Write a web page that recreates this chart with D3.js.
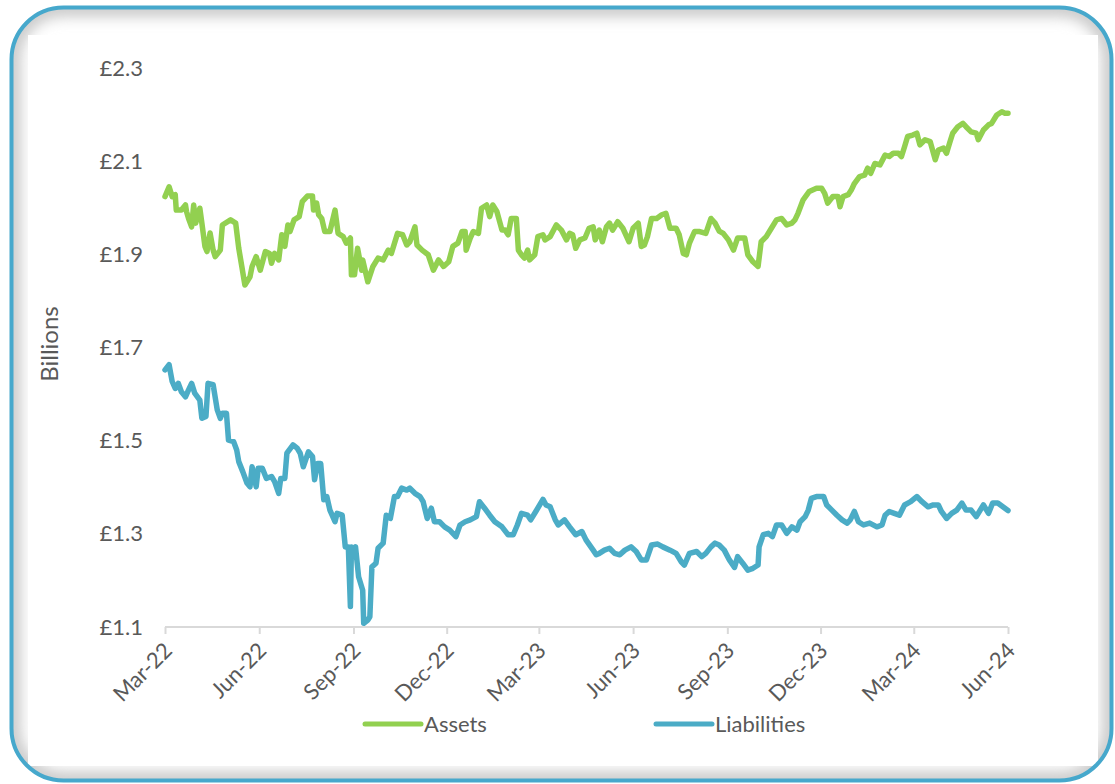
<!DOCTYPE html>
<html>
<head>
<meta charset="utf-8">
<script src="https://cdn.jsdelivr.net/npm/d3@7"></script>
<style>
  html, body { margin: 0; padding: 0; background: #ffffff; }
  svg { display: block; }
  text { font-family: Lato, "Open Sans", sans-serif; fill: #595959; }
</style>
</head>
<body>
<svg id="chart" width="1115" height="784"></svg>
<script>
// Fund assets and liabilities, £ billions
const assetDates = [
  "2022-03-01","2022-03-05","2022-03-08","2022-03-11","2022-03-12","2022-03-17","2022-03-21","2022-03-22","2022-03-24","2022-03-27",
  "2022-03-29","2022-03-31","2022-04-04","2022-04-06","2022-04-09","2022-04-11","2022-04-14","2022-04-17","2022-04-19","2022-04-24",
  "2022-04-26","2022-05-04","2022-05-09","2022-05-12","2022-05-15","2022-05-18","2022-05-23","2022-05-25","2022-05-29","2022-06-02",
  "2022-06-07","2022-06-11","2022-06-13","2022-06-16","2022-06-20","2022-06-23","2022-06-26","2022-06-29","2022-07-01","2022-07-05",
  "2022-07-10","2022-07-13","2022-07-18","2022-07-23","2022-07-24","2022-07-27","2022-07-29","2022-08-01","2022-08-04","2022-08-09",
  "2022-08-14","2022-08-17","2022-08-22","2022-08-25","2022-08-29","2022-08-30","2022-09-02","2022-09-05","2022-09-09","2022-09-10",
  "2022-09-15","2022-09-20","2022-09-25","2022-09-30","2022-10-05","2022-10-08","2022-10-14","2022-10-19","2022-10-23","2022-10-26",
  "2022-10-31","2022-11-02","2022-11-07","2022-11-13","2022-11-18","2022-11-23","2022-11-28","2022-12-03","2022-12-07","2022-12-12",
  "2022-12-16","2022-12-19","2022-12-20","2022-12-24","2022-12-27","2023-01-01","2023-01-04","2023-01-09","2023-01-12","2023-01-15",
  "2023-01-19","2023-01-24","2023-01-27","2023-01-30","2023-02-02","2023-02-07","2023-02-09","2023-02-12","2023-02-15","2023-02-18",
  "2023-02-20","2023-02-25","2023-02-28","2023-03-05","2023-03-07","2023-03-12","2023-03-18","2023-03-23","2023-03-28","2023-03-31",
  "2023-04-03","2023-04-06","2023-04-10","2023-04-15","2023-04-19","2023-04-23","2023-04-25","2023-04-29","2023-05-02","2023-05-06",
  "2023-05-09","2023-05-12","2023-05-17","2023-05-22","2023-05-28","2023-06-01","2023-06-06","2023-06-09","2023-06-12","2023-06-15",
  "2023-06-19","2023-06-24","2023-06-29","2023-07-03","2023-07-07","2023-07-13","2023-07-16","2023-07-20","2023-07-23","2023-07-26",
  "2023-07-31","2023-08-05","2023-08-11","2023-08-16","2023-08-20","2023-08-24","2023-08-28","2023-09-02","2023-09-07","2023-09-11",
  "2023-09-18","2023-09-21","2023-09-26","2023-10-01","2023-10-04","2023-10-09","2023-10-14","2023-10-19","2023-10-24","2023-10-29",
  "2023-11-03","2023-11-06","2023-11-09","2023-11-14","2023-11-20","2023-11-27","2023-12-02","2023-12-05","2023-12-08","2023-12-13",
  "2023-12-18","2023-12-20","2023-12-23","2023-12-28","2023-12-31","2024-01-03","2024-01-08","2024-01-13","2024-01-16","2024-01-19",
  "2024-01-23","2024-01-28","2024-02-02","2024-02-06","2024-02-10","2024-02-15","2024-02-18","2024-02-21","2024-02-24","2024-02-29",
  "2024-03-04","2024-03-07","2024-03-12","2024-03-17","2024-03-22","2024-03-25","2024-03-30","2024-04-02","2024-04-05","2024-04-08",
  "2024-04-13","2024-04-18","2024-04-21","2024-04-26","2024-05-01","2024-05-03","2024-05-08","2024-05-13","2024-05-16","2024-05-21",
  "2024-05-26","2024-05-29","2024-06-01"
];
const assetValues = [
  2.024,2.045,2.024,2.028,1.995,1.995,2.006,1.992,1.977,1.959,
  2.006,1.967,1.999,1.967,1.917,1.906,1.946,1.909,1.895,1.909,
  1.963,1.974,1.967,1.913,1.874,1.834,1.852,1.874,1.895,1.866,
  1.906,1.902,1.881,1.902,1.888,1.942,1.917,1.963,1.949,1.974,
  1.981,2.013,2.025,2.025,1.995,2.010,1.985,1.977,1.949,1.949,
  1.995,1.945,1.938,1.924,1.935,1.856,1.856,1.913,1.866,1.888,
  1.841,1.874,1.892,1.888,1.909,1.902,1.945,1.942,1.920,1.927,
  1.959,1.920,1.909,1.899,1.866,1.888,1.874,1.884,1.917,1.924,
  1.949,1.949,1.909,1.935,1.949,1.945,1.999,2.006,1.981,2.006,
  1.992,1.952,1.952,1.942,1.977,1.977,1.909,1.899,1.892,1.909,
  1.888,1.899,1.938,1.942,1.931,1.938,1.963,1.952,1.931,1.945,
  1.942,1.913,1.931,1.935,1.956,1.959,1.931,1.952,1.927,1.959,
  1.967,1.952,1.970,1.956,1.927,1.956,1.967,1.917,1.920,1.938,
  1.977,1.977,1.985,1.988,1.956,1.956,1.942,1.902,1.899,1.924,
  1.949,1.949,1.945,1.977,1.967,1.950,1.945,1.931,1.909,1.935,
  1.935,1.899,1.884,1.874,1.927,1.938,1.956,1.974,1.977,1.963,
  1.967,1.974,1.988,2.017,2.035,2.042,2.042,2.031,2.010,2.024,
  2.024,2.002,2.024,2.028,2.038,2.052,2.067,2.070,2.085,2.074,
  2.095,2.092,2.113,2.110,2.117,2.117,2.110,2.131,2.153,2.156,
  2.160,2.135,2.146,2.142,2.103,2.124,2.128,2.117,2.139,2.160,
  2.174,2.181,2.174,2.163,2.160,2.146,2.167,2.178,2.181,2.199,
  2.206,2.203,2.203
];

const liabilityDates = [
  "2022-03-01","2022-03-05","2022-03-08","2022-03-11","2022-03-14","2022-03-17","2022-03-21","2022-03-24","2022-03-27","2022-03-30",
  "2022-04-04","2022-04-06","2022-04-10","2022-04-12","2022-04-17","2022-04-21","2022-04-24","2022-04-26","2022-04-30","2022-05-02",
  "2022-05-07","2022-05-10","2022-05-12","2022-05-16","2022-05-20","2022-05-23","2022-05-25","2022-05-29","2022-05-31","2022-06-04",
  "2022-06-08","2022-06-13","2022-06-16","2022-06-20","2022-06-22","2022-06-26","2022-06-28","2022-07-04","2022-07-08","2022-07-11",
  "2022-07-14","2022-07-19","2022-07-23","2022-07-25","2022-07-28","2022-07-31","2022-08-03","2022-08-06","2022-08-09","2022-08-14",
  "2022-08-16","2022-08-21","2022-08-24","2022-08-27","2022-08-29","2022-08-30","2022-09-02","2022-09-03","2022-09-06","2022-09-10",
  "2022-09-11","2022-09-15","2022-09-17","2022-09-19","2022-09-23","2022-09-25","2022-09-30","2022-10-03","2022-10-07","2022-10-11",
  "2022-10-14","2022-10-18","2022-10-23","2022-10-26","2022-10-31","2022-11-05","2022-11-08","2022-11-12","2022-11-16","2022-11-19",
  "2022-11-24","2022-11-29","2022-12-04","2022-12-10","2022-12-14","2022-12-19","2022-12-24","2022-12-30","2023-01-02","2023-01-07",
  "2023-01-12","2023-01-17","2023-01-24","2023-01-30","2023-02-04","2023-02-08","2023-02-12","2023-02-18","2023-02-21","2023-02-26",
  "2023-03-05","2023-03-08","2023-03-12","2023-03-17","2023-03-20","2023-03-26","2023-03-31","2023-04-06","2023-04-12","2023-04-16",
  "2023-04-23","2023-04-26","2023-04-29","2023-05-04","2023-05-09","2023-05-14","2023-05-19","2023-05-24","2023-05-30","2023-06-04",
  "2023-06-09","2023-06-14","2023-06-19","2023-06-25","2023-06-30","2023-07-07","2023-07-13","2023-07-18","2023-07-21","2023-07-26",
  "2023-08-02","2023-08-07","2023-08-11","2023-08-16","2023-08-20","2023-08-24","2023-08-29","2023-09-03","2023-09-08","2023-09-11",
  "2023-09-16","2023-09-21","2023-09-26","2023-10-01","2023-10-02","2023-10-06","2023-10-11","2023-10-15","2023-10-19","2023-10-24",
  "2023-10-29","2023-11-03","2023-11-08","2023-11-11","2023-11-16","2023-11-19","2023-11-22","2023-11-27","2023-12-04","2023-12-07",
  "2023-12-12","2023-12-17","2023-12-22","2023-12-27","2023-12-30","2024-01-03","2024-01-07","2024-01-12","2024-01-18","2024-01-25",
  "2024-01-30","2024-02-02","2024-02-06","2024-02-11","2024-02-16","2024-02-21","2024-02-27","2024-03-04","2024-03-09","2024-03-15",
  "2024-03-20","2024-03-25","2024-03-28","2024-04-02","2024-04-07","2024-04-12","2024-04-17","2024-04-21","2024-04-26","2024-05-01",
  "2024-05-08","2024-05-13","2024-05-17","2024-05-22","2024-05-27","2024-06-01"
];
const liabilityValues = [
  1.652,1.663,1.627,1.612,1.623,1.605,1.594,1.609,1.623,1.602,
  1.587,1.548,1.552,1.623,1.620,1.566,1.548,1.559,1.559,1.501,
  1.498,1.480,1.455,1.433,1.409,1.401,1.444,1.401,1.441,1.441,
  1.419,1.423,1.412,1.387,1.419,1.419,1.473,1.491,1.484,1.473,
  1.444,1.476,1.466,1.416,1.451,1.451,1.373,1.380,1.351,1.326,
  1.344,1.340,1.272,1.272,1.144,1.272,1.265,1.272,1.208,1.179,
  1.108,1.115,1.122,1.229,1.237,1.269,1.280,1.340,1.333,1.380,
  1.380,1.398,1.394,1.398,1.387,1.380,1.369,1.333,1.355,1.326,
  1.326,1.315,1.308,1.294,1.319,1.326,1.330,1.337,1.369,1.355,
  1.340,1.326,1.315,1.298,1.298,1.319,1.344,1.340,1.330,1.348,
  1.374,1.362,1.358,1.330,1.319,1.330,1.315,1.298,1.305,1.287,
  1.265,1.255,1.258,1.265,1.269,1.258,1.255,1.265,1.272,1.262,
  1.244,1.244,1.276,1.278,1.272,1.265,1.258,1.240,1.233,1.258,
  1.262,1.251,1.258,1.272,1.280,1.276,1.265,1.244,1.228,1.251,
  1.237,1.222,1.226,1.233,1.272,1.298,1.301,1.294,1.319,1.319,
  1.301,1.315,1.308,1.326,1.337,1.351,1.376,1.380,1.380,1.362,
  1.351,1.340,1.330,1.323,1.330,1.348,1.326,1.319,1.323,1.315,
  1.319,1.340,1.348,1.344,1.340,1.362,1.369,1.380,1.369,1.358,
  1.362,1.362,1.348,1.333,1.344,1.351,1.366,1.351,1.351,1.337,
  1.362,1.344,1.366,1.366,1.358,1.350
];

const yTicks = [1.1, 1.3, 1.5, 1.7, 1.9, 2.1, 2.3];
const xTickDates = ["2022-03-01","2022-06-01","2022-09-01","2022-12-01","2023-03-01","2023-06-01",
                    "2023-09-01","2023-12-01","2024-03-01","2024-06-01"];
const seriesNames = ["Assets", "Liabilities"];
const seriesColors = ["#92D050", "#4BACC6"];

const parse = d3.utcParse("%Y-%m-%d");
const svg = d3.select("#chart");
const FONT = "Lato, 'Open Sans', sans-serif";

// ---- Card background: rounded frame with soft inner shading ----
const defs = svg.append("defs");
const frame = { x: 11.5, y: 7.5, w: 1100, h: 773, r: 52 };
defs.append("clipPath").attr("id", "frameClip")
  .append("rect").attr("x", frame.x).attr("y", frame.y)
  .attr("width", frame.w).attr("height", frame.h).attr("rx", frame.r);
defs.append("filter").attr("id", "soft").attr("x", "-10%").attr("y", "-10%")
  .attr("width", "120%").attr("height", "120%")
  .append("feGaussianBlur").attr("stdDeviation", 7);

svg.append("rect").attr("x", frame.x).attr("y", frame.y)
  .attr("width", frame.w).attr("height", frame.h).attr("rx", frame.r)
  .attr("fill", "#ffffff");
svg.append("g").attr("clip-path", "url(#frameClip)")
  .append("rect").attr("x", frame.x).attr("y", frame.y)
  .attr("width", frame.w).attr("height", frame.h).attr("rx", frame.r)
  .attr("fill", "none").attr("stroke", "#c8c8c8").attr("stroke-width", 18)
  .attr("filter", "url(#soft)");
// chart area panel
svg.append("rect").attr("x", 28).attr("y", 35).attr("width", 1070).attr("height", 731)
  .attr("fill", "#ffffff");
svg.append("rect").attr("x", frame.x).attr("y", frame.y)
  .attr("width", frame.w).attr("height", frame.h).attr("rx", frame.r)
  .attr("fill", "none").attr("stroke", "#46A8CC").attr("stroke-width", 4);

// ---- Scales ----
const x = d3.scaleUtc()
  .domain([parse("2022-03-01"), parse("2024-06-01")])
  .range([165, 1008]);
const y = d3.scaleLinear().domain([1.1, 2.3]).range([627, 68]);

// ---- Y axis (labels only) ----
const yAxis = svg.append("g").attr("transform", "translate(165,0)")
  .call(d3.axisLeft(y).tickValues(yTicks).tickSize(0).tickPadding(22)
    .tickFormat(d => "£" + d3.format(".1f")(d)));
yAxis.select(".domain").remove();
yAxis.selectAll("text").style("font-size", "22px").style("fill", "#595959")
  .style("font-family", FONT);

svg.append("text")
  .attr("transform", "translate(58,344) rotate(-90)")
  .attr("text-anchor", "middle")
  .style("font-size", "24px")
  .text("Billions");

// ---- X axis ----
const xAxis = svg.append("g").attr("transform", "translate(0,627)")
  .call(d3.axisBottom(x).tickValues(xTickDates.map(parse)).tickSize(7).tickSizeOuter(0)
    .tickFormat(d3.utcFormat("%b-%y")));
xAxis.select(".domain").attr("stroke", "#D9D9D9").attr("stroke-width", 2)
  .attr("d", `M${x.range()[0]},0H${x.range()[1]}`);
xAxis.selectAll(".tick line").attr("stroke", "#D9D9D9").attr("stroke-width", 2);
xAxis.selectAll("text")
  .attr("text-anchor", "end")
  .attr("x", 0).attr("y", 0).attr("dy", 0)
  .attr("transform", "translate(8,25) rotate(-45)")
  .style("font-size", "22px").style("fill", "#595959")
  .style("font-family", FONT);

// ---- Series lines ----
const series = [
  { name: seriesNames[0], color: seriesColors[0],
    pts: assetDates.map((d, i) => ({ date: parse(d), value: assetValues[i] })) },
  { name: seriesNames[1], color: seriesColors[1],
    pts: liabilityDates.map((d, i) => ({ date: parse(d), value: liabilityValues[i] })) }
];
const line = d3.line().x(d => x(d.date)).y(d => y(d.value));
svg.append("g").selectAll("path").data(series).join("path")
  .attr("d", d => line(d.pts))
  .attr("fill", "none")
  .attr("stroke", d => d.color)
  .attr("stroke-width", 5.5)
  .attr("stroke-linejoin", "round")
  .attr("stroke-linecap", "round");

// ---- Legend ----
const legendPos = [365, 656];
const legend = svg.append("g").selectAll("g").data(series).join("g")
  .attr("transform", (d, i) => `translate(${legendPos[i]},724)`);
legend.append("line").attr("x1", 0).attr("x2", 56).attr("y1", 0).attr("y2", 0)
  .attr("stroke", d => d.color).attr("stroke-width", 5).attr("stroke-linecap", "round");
legend.append("text").attr("x", 59).attr("y", 0).attr("dy", "0.35em")
  .style("font-size", "22px").text(d => d.name);
</script>
</body>
</html>
